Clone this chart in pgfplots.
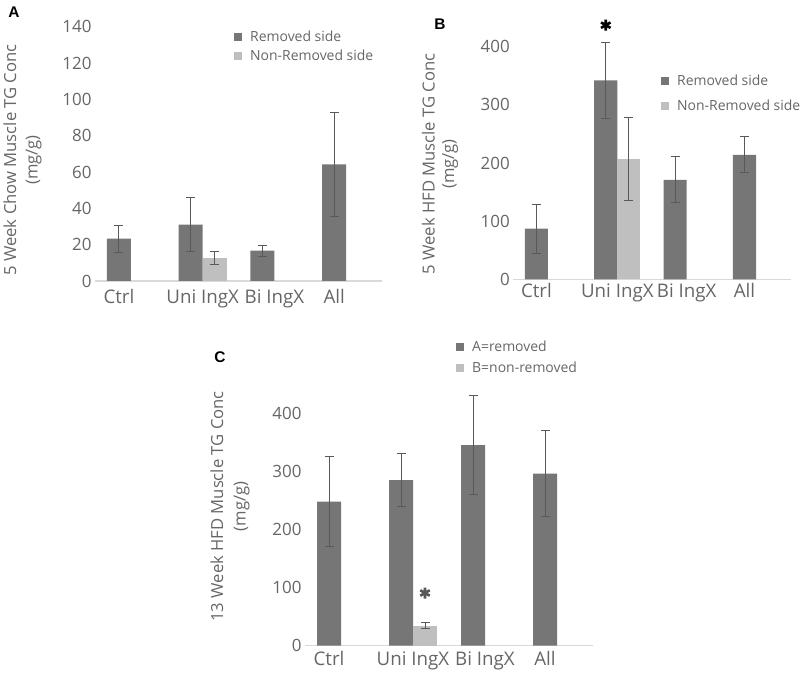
\documentclass[border=0pt]{standalone}
\usepackage{pgfplots}
\usepackage{pgfplotstable}
\pgfplotsset{compat=1.18}
\usepackage{fontspec}
\setmainfont{Open Sans}
\newfontfamily\labfont{Liberation Sans}
\definecolor{darkbar}{HTML}{767676}
\definecolor{lightbar}{HTML}{BFBFBF}
\definecolor{errcol}{HTML}{595959}
\definecolor{txt}{HTML}{666666}
\definecolor{basecol}{HTML}{D9D9D9}

% Panel A
\pgfplotstableread{
x y e
-0.1667 23.3 7.5
0.8333 31.0 14.8
1.8333 16.7 3.1
2.8333 64.2 28.8
}\Arem
\pgfplotstableread{
x y e
1.1667 12.5 3.5
}\Anon
% Panel B
\pgfplotstableread{
x y e
-0.1667 87 42
0.8333 342 65
1.8333 171 39.5
2.8333 214 31
}\Brem
\pgfplotstableread{
x y e
1.1667 207 71
}\Bnon
% Panel C
\pgfplotstableread{
x y e
-0.1667 248 77
0.8333 285 45
1.8333 345 85
2.8333 296 74
}\Crem
\pgfplotstableread{
x y e
1.1667 34.5 5
}\Cnon

\pgfplotsset{
  panel/.style={
    scale only axis, anchor=south west, clip=false,
    xmin=-0.5, xmax=3.5, ymin=0,
    axis x line*=bottom, axis y line*=left,
    x axis line style={basecol, line width=1.2bp, -},
    y axis line style={draw=none},
    major tick length=0pt,
    xtick={-0.1667,1,2,2.8333},
    xticklabels={Ctrl,Uni IngX,Bi IngX,All},
    yticklabel style={font=\fontsize{17}{20}\selectfont, text=txt},
    xticklabel style={font=\fontsize{18.8}{22}\selectfont, text=txt},
    /pgf/number format/assume math mode=true,
    legend style={draw=none, fill=none, inner sep=0pt, font=\fontsize{14}{17}\selectfont, text=txt,
      cells={anchor=west}, nodes={inner sep=0pt},
      /tikz/every odd column/.append style={column sep=8bp}},
    legend image code/.code={\fill[##1] (0bp,-4bp) rectangle (8bp,4bp);},
  },
  rembar/.style={ybar, bar width=0.3333, bar shift=0pt, fill=darkbar, draw=none,
    error bars/.cd, y dir=both, y explicit,
    error bar style={errcol, line width=1bp},
    error mark options={rotate=90, errcol, line width=1bp, mark size=4.5bp}},
  nonbar/.style={ybar, bar width=0.3333, bar shift=0pt, fill=lightbar, draw=none,
    error bars/.cd, y dir=both, y explicit,
    error bar style={errcol, line width=1bp},
    error mark options={rotate=90, errcol, line width=1bp, mark size=4.5bp}},
}
\tikzset{ylab/.style={rotate=90, anchor=center, align=center, text=txt, inner sep=0pt}}

\begin{document}
\begin{tikzpicture}[x=1bp,y=1bp]
\useasboundingbox (0,0) rectangle (800,673);

% ---------- A ----------
\begin{axis}[panel, at={(95bp,392bp)}, width=287bp, height=254.3bp,
  ymax=140, ytick={0,20,...,140},
  xticklabel style={yshift=-5.2bp},
  legend style={at={(axis description cs:0.4843,0.9216)}, anchor=west, row sep=7.1bp}]
\addplot[rembar] table[x=x, y=y, y error=e] {\Arem};
\addlegendentry{Removed side}
\addplot[nonbar] table[x=x, y=y, y error=e] {\Anon};
\addlegendentry{Non-Removed side}
\end{axis}

% ---------- B ----------
\begin{axis}[panel, at={(513.3bp,393.7bp)}, width=277.4bp, height=232.6bp,
  ymax=400, ytick={0,100,...,400},
  xticklabel style={yshift=-0.9bp},
  legend style={at={(axis description cs:0.5324,0.7977)}, anchor=west, row sep=12.9bp}]
\addplot[rembar] table[x=x, y=y, y error=e] {\Brem};
\addlegendentry{Removed side}
\addplot[nonbar] table[x=x, y=y, y error=e] {\Bnon};
\addlegendentry{Non-Removed side}
\addplot[only marks, mark=asterisk, mark size=5.5bp, line width=2.6bp, black, forget plot] coordinates {(0.8333,437)};
\end{axis}

% ---------- C ----------
\begin{axis}[panel, at={(305bp,27.3bp)}, width=288bp, height=232.4bp,
  ymax=400, ytick={0,100,...,400},
  xticklabel style={yshift=-2.2bp},
  legend style={at={(axis description cs:0.5243,1.2392)}, anchor=west, row sep=9.1bp}]
\addplot[rembar] table[x=x, y=y, y error=e] {\Crem};
\addlegendentry{A=removed}
\addplot[nonbar] table[x=x, y=y, y error=e] {\Cnon};
\addlegendentry{B=non-removed}
\addplot[only marks, mark=asterisk, mark size=5.5bp, line width=2.6bp, errcol, forget plot] coordinates {(1.1667,90.7)};
\end{axis}

% y axis titles
\node[ylab, font=\fontsize{16.7}{21.6}\selectfont] at (22.5,673-160) {5 Week Chow Muscle TG Conc\\(mg/g)};
\node[ylab, font=\fontsize{16.7}{19.5}\selectfont] at (440,673-164) {5 Week HFD Muscle TG Conc\\(mg/g)};
\node[ylab, font=\fontsize{16.7}{22.5}\selectfont] at (230,673-506.5) {13 Week HFD Muscle TG Conc\\(mg/g)};

% panel labels
\node[font=\labfont\bfseries\fontsize{15.5}{18}\selectfont] at (14,660.5) {A};
\node[font=\labfont\bfseries\fontsize{15.5}{18}\selectfont] at (440,649) {B};
\node[font=\labfont\bfseries\fontsize{15.5}{18}\selectfont] at (220,315.5) {C};
\end{tikzpicture}
\end{document}
